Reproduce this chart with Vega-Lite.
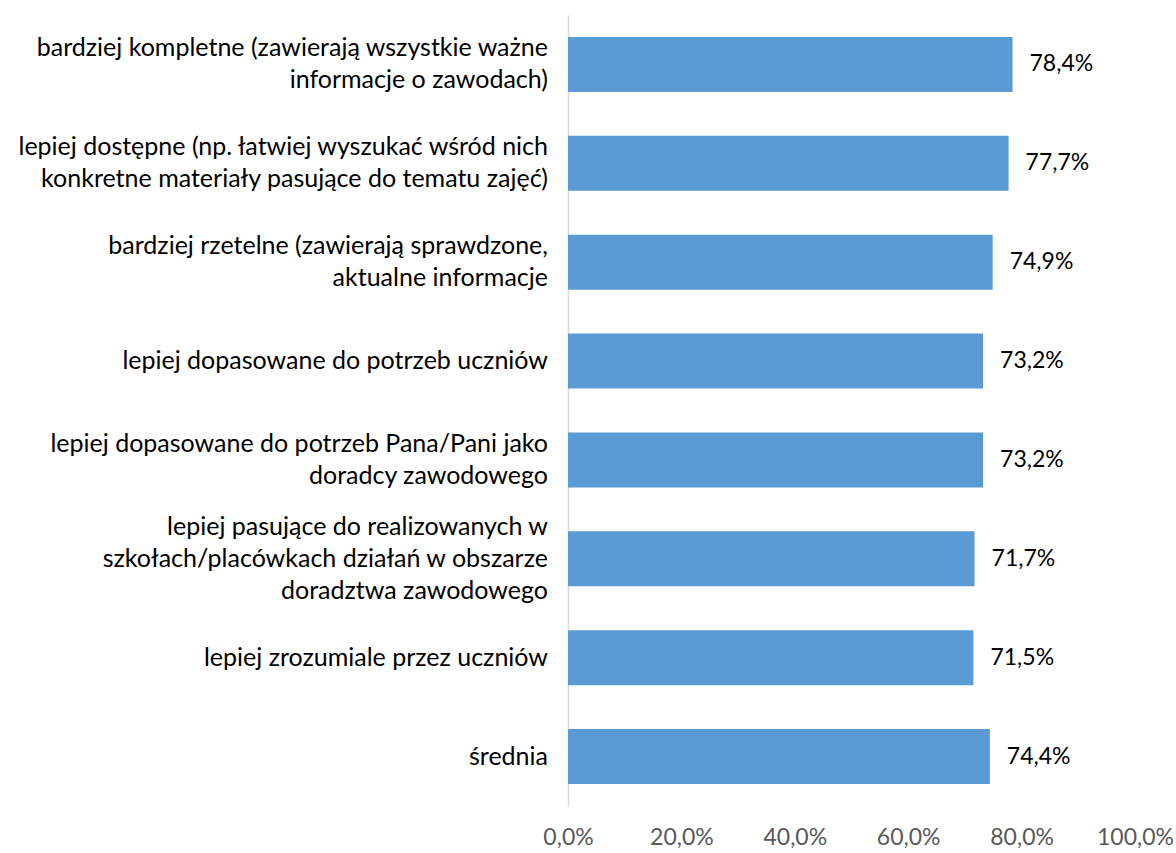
{
  "$schema": "https://vega.github.io/schema/vega-lite/v6.json",
  "width": 567,
  "height": 791,
  "autosize": {"type": "none"},
  "padding": {"left": 568, "top": 15, "right": 41, "bottom": 47},
  "background": "white",
  "data": {
    "values": [
      {"kategoria": "bardziej kompletne (zawierają wszystkie ważne|informacje o zawodach)", "wartosc": 0.784},
      {"kategoria": "lepiej dostępne (np. łatwiej wyszukać wśród nich|konkretne materiały pasujące do tematu zajęć)", "wartosc": 0.777},
      {"kategoria": "bardziej rzetelne (zawierają sprawdzone,|aktualne informacje", "wartosc": 0.749},
      {"kategoria": "lepiej dopasowane do potrzeb uczniów", "wartosc": 0.732},
      {"kategoria": "lepiej dopasowane do potrzeb Pana/Pani jako|doradcy zawodowego", "wartosc": 0.732},
      {"kategoria": "lepiej pasujące do realizowanych w|szkołach/placówkach działań w obszarze|doradztwa zawodowego", "wartosc": 0.717},
      {"kategoria": "lepiej zrozumiale przez uczniów", "wartosc": 0.715},
      {"kategoria": "średnia", "wartosc": 0.744}
    ]
  },
  "encoding": {
    "y": {
      "field": "kategoria",
      "type": "nominal",
      "sort": null,
      "title": null,
      "scale": {"paddingInner": 0.444, "paddingOuter": 0.222},
      "axis": {
        "labels": false,
        "ticks": false,
        "domainColor": "#D9D9D9",
        "domainWidth": 1.5
      }
    },
    "x": {
      "field": "wartosc",
      "type": "quantitative",
      "title": null,
      "scale": {"domain": [0, 1]},
      "axis": {
        "values": [0, 0.2, 0.4, 0.6, 0.8, 1],
        "format": ".1%",
        "grid": false,
        "domain": false,
        "ticks": false,
        "labelPadding": 20,
        "labelFontSize": 23,
        "labelColor": "#595959",
        "labelFlush": false
      }
    }
  },
  "layer": [
    {"mark": {"type": "bar", "color": "#5B9BD5"}},
    {
      "mark": {"type": "text", "align": "left", "baseline": "middle", "dx": 17, "fontSize": 23, "color": "#000000"},
      "encoding": {"text": {"field": "wartosc", "type": "quantitative", "format": ".1%"}}
    },
    {
      "mark": {
        "type": "text",
        "align": "right",
        "baseline": "middle",
        "dx": -20,
        "fontSize": 25,
        "lineHeight": 32,
        "lineBreak": "|",
        "color": "#000000",
        "dy": {"expr": "-(length(split(datum.kategoria, '|')) - 1) * 16"}
      },
      "encoding": {
        "x": {"datum": 0},
        "text": {"field": "kategoria"}
      }
    }
  ],
  "config": {
    "font": "Lato",
    "view": {"stroke": null},
    "locale": {
      "number": {"decimal": ",", "thousands": "\u00a0", "grouping": [3], "currency": ["", " zł"]}
    }
  }
}
